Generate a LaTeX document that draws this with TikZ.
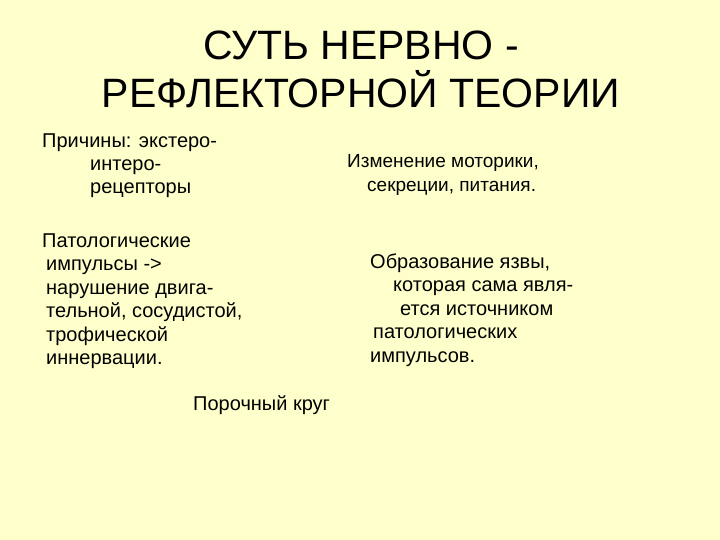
\documentclass[tikz,border=0pt]{standalone}
\usepackage{fontspec}
\setmainfont{Liberation Sans}
\usepackage{xcolor}
\definecolor{slidebg}{HTML}{FFFFCC}
\usetikzlibrary{positioning}

\begin{document}
\begin{tikzpicture}[x=1pt,y=-1pt,
heading/.style={font=\fontsize{41}{48}\selectfont,align=center,inner sep=0pt,anchor=base},
txt/.style={font=\fontsize{20}{23.5}\selectfont,align=left,inner sep=0pt,anchor=base west}]
\fill[slidebg] (0,0) rectangle (720,540);
\useasboundingbox (0,0) rectangle (720,540);
% anchor base = baseline of the last line
\node (title) [heading] at (361,108) {СУТЬ НЕРВНО -\\РЕФЛЕКТОРНОЙ ТЕОРИИ};
\node (causes) [txt] at (42,194) {Причины: экстеро-\\
    \hspace*{48pt}интеро-\\
    \hspace*{48pt}рецепторы};
\node (motor) [txt,font=\fontsize{19}{23.5}\selectfont] at (347,191.5) {Изменение моторики,\\
    \hspace*{20pt}секреции, питания.};
\node (impulses) [txt] at (42,364.5) {Патологические\\
    \hspace*{4pt}импульсы ->\\
    \hspace*{4pt}нарушение двига-\\
    \hspace*{4pt}тельной, сосудистой,\\
    \hspace*{4pt}трофической\\
    \hspace*{4pt}иннервации.};
\node (ulcer) [txt] at (370,362) {Образование язвы,\\
    \hspace*{23pt}которая сама явля-\\
    \hspace*{30pt}ется источником\\
    \hspace*{3pt}патологических\\
    импульсов.};
\node (circle) [txt] at (193,410) {Порочный круг};
\end{tikzpicture}
\end{document}
